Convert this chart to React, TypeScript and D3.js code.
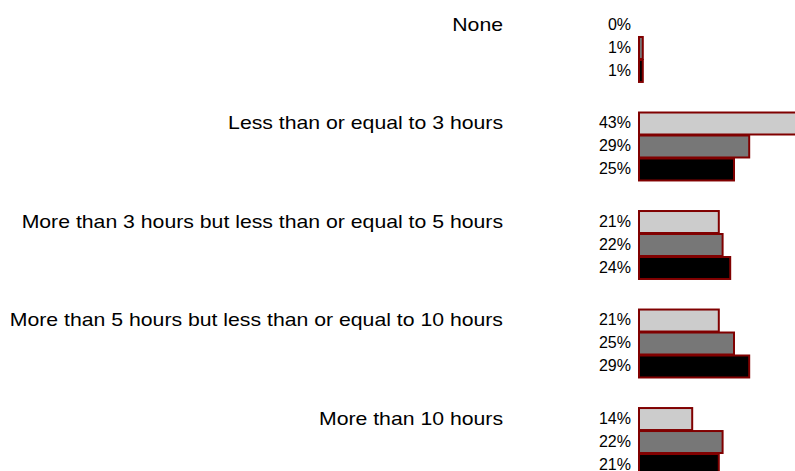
import React, { useEffect, useRef } from 'react';
import * as d3 from 'd3';

const categories = [
  'None',
  'Less than or equal to 3 hours',
  'More than 3 hours but less than or equal to 5 hours',
  'More than 5 hours but less than or equal to 10 hours',
  'More than 10 hours',
];
const seriesNames = ['s1', 's2', 's3'];
const series1 = [0, 43, 21, 21, 14];
const series2 = [1, 29, 22, 25, 22];
const series3 = [1, 25, 24, 29, 21];
const seriesColors = ['#cccccc', '#777777', '#000000'];

const App = () => {
  const svgRef = useRef<SVGSVGElement>(null);

  useEffect(() => {
    const width = 795;
    const height = 471;
    const svg = d3.select(svgRef.current).attr('width', width).attr('height', height);
    svg.selectAll('*').remove();

    const values = [series1, series2, series3];

    // groups, one band per category
    const y0 = d3.scaleBand().domain(categories).range([13, 476]).paddingInner(0.3);
    const y1 = d3.scaleBand().domain(seriesNames).range([0, y0.bandwidth()]);
    const x = d3.scaleLinear().domain([0, 100]).range([639, 639 + 380]);

    const g = svg.selectAll('g.cat')
      .data(categories)
      .enter()
      .append('g')
      .attr('class', 'cat')
      .attr('transform', d => `translate(0, ${y0(d)})`);

    // category labels (reference text is a bit wider than tall)
    g.append('text')
      .attr('transform', `translate(503, ${y1('s1')! + y1.bandwidth() / 2}) scale(1.18, 1)`)
      .attr('dy', '0.35em')
      .attr('text-anchor', 'end')
      .style('font-family', 'Liberation Sans, Arial, sans-serif')
      .style('font-size', '18px')
      .style('fill', '#000')
      .text(d => d);

    seriesNames.forEach((s, si) => {
      g.append('rect')
        .attr('x', x(0))
        .attr('y', y1(s)! + 1)
        .attr('width', (d, i) => x(values[si][i]) - x(0))
        .attr('height', y1.bandwidth() - 1)
        .attr('fill', seriesColors[si])
        .attr('stroke', (d, i) => (values[si][i] > 0 ? '#800000' : 'none'))
        .attr('stroke-width', 2);

      // value labels
      g.append('text')
        .attr('x', 631)
        .attr('y', y1(s)! + y1.bandwidth() / 2 - 0.5)
        .attr('dy', '0.35em')
        .attr('text-anchor', 'end')
        .style('font-family', 'Liberation Sans, Arial, sans-serif')
        .style('font-size', '16px')
        .style('fill', '#000')
        .text((d, i) => `${values[si][i]}%`);
    });
  }, []);

  return (
    <div style={{ position: 'absolute', left: 0, top: 0, width: 795, height: 471, overflow: 'hidden', background: '#fff' }}>
      <svg ref={svgRef} style={{ display: 'block' }}></svg>
    </div>
  );
};

export default App;
